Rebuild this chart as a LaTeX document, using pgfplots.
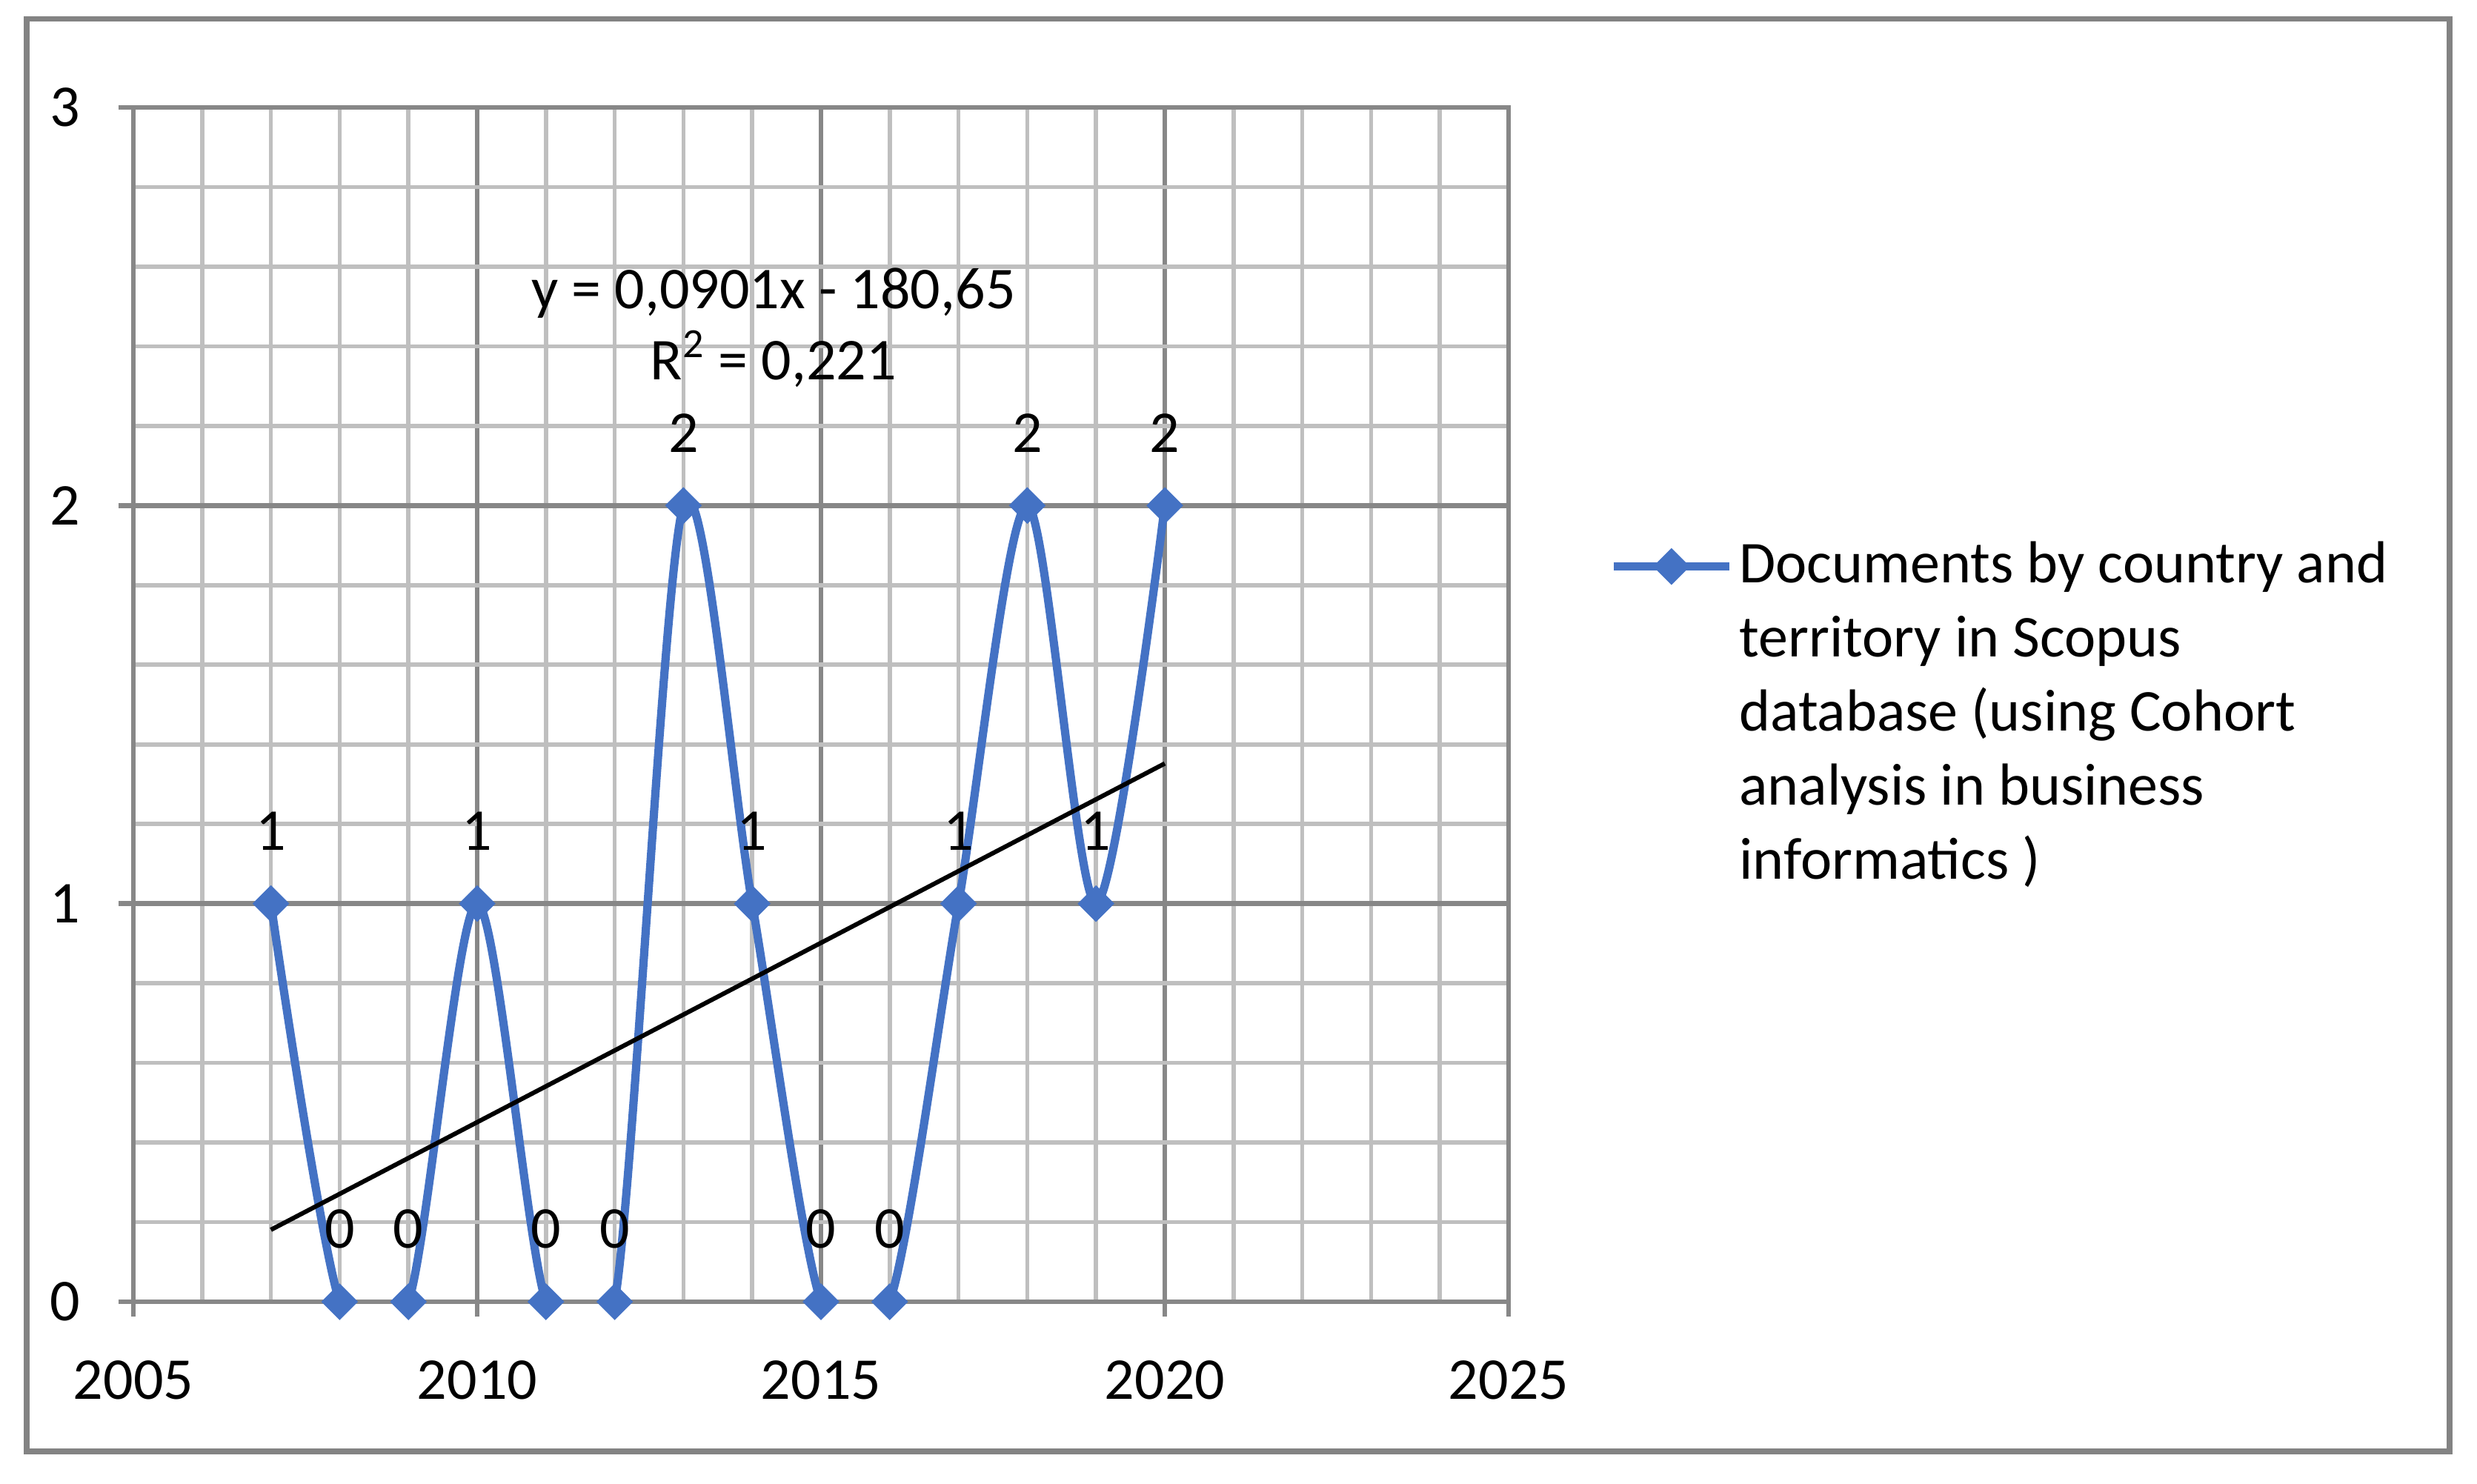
\documentclass[border=0pt]{standalone}
\usepackage{pgfplots}
\pgfplotsset{compat=1.18}
\usepackage{fontspec}
\setmainfont{Carlito}
\definecolor{serblue}{HTML}{4472C4}
\definecolor{gridminor}{HTML}{BFBFBF}
\definecolor{gridmajor}{HTML}{878787}
\definecolor{framegray}{HTML}{838383}
\begin{document}
\fontsize{20}{25}\selectfont
\begin{tikzpicture}
\path[use as bounding box] (0,0) rectangle (835.75pt,500.75pt);
\draw[line width=1.8pt, framegray] (9pt,11pt) rectangle (826.5pt,494.3pt);
\begin{axis}[
  at={(45pt,61.5pt)}, anchor=south west,
  scale only axis,
  width=464pt, height=403pt,
  xmin=2005, xmax=2025, ymin=0, ymax=3,
  xtick={2005,2010,2015,2020,2025},
  ytick={0,1,2,3},
  minor x tick num=4,
  minor y tick num=4,
  grid=both,
  major grid style={gridmajor, line width=1.6pt},
  minor grid style={gridminor, line width=1.4pt},
  axis line style={gridmajor, line width=1.6pt},
  tick style={gridmajor, line width=1.6pt},
  minor tick length=0pt,
  major tick length=5pt,
  tick align=outside,
  xtick pos=bottom, ytick pos=left,
  /pgf/number format/1000 sep={},
  /pgf/number format/assume math mode=true,
  tick label style={font=\fontsize{20}{24}\selectfont},
  xticklabel style={yshift=-8pt},
  yticklabel style={xshift=-6pt},
  legend style={at={(1.073,0.642)}, anchor=north west, draw=none, fill=none,
    inner sep=0pt, row sep=0pt,
    font=\fontsize{20}{25}\selectfont,
    cells={align=left}},
  legend cell align=left,
  legend image code/.code={%
    \draw[mark repeat=2, mark phase=2] plot coordinates {(0pt,50pt) (19.5pt,50pt) (39pt,50pt)};},
  clip=true,
]
\addplot[serblue, line width=2.8pt, smooth, tension=0.5,
  mark=diamond*, mark size=5.5pt, mark options={xscale=1.333, solid, fill=serblue, line width=1pt},
  nodes near coords,
  nodes near coords style={black, anchor=base, yshift=18pt, font=\fontsize{20}{24}\selectfont},
  point meta=explicit symbolic]
  coordinates {
  (2007,1) [1]
  (2008,0) [0]
  (2009,0) [0]
  (2010,1) [1]
  (2011,0) [0]
  (2012,0) [0]
  (2013,2) [2]
  (2014,1) [1]
  (2015,0) [0]
  (2016,0) [0]
  (2017,1) [1]
  (2018,2) [2]
  (2019,1) [1]
  (2020,2) [2]
  };
\addlegendentry{Documents by country and\\territory in Scopus\\database (using Cohort\\analysis in business\\informatics )}
\addplot[black, line width=1.5pt, forget plot] coordinates {(2007,0.1807) (2020,1.3520)};
\node[align=center, font=\fontsize{20}{24}\selectfont, inner sep=0pt] at (axis cs:2014.31,2.447)
  {y = 0,0901x - 180,65\\R\textsuperscript{2} = 0,221};
\end{axis}
\end{tikzpicture}
\end{document}
